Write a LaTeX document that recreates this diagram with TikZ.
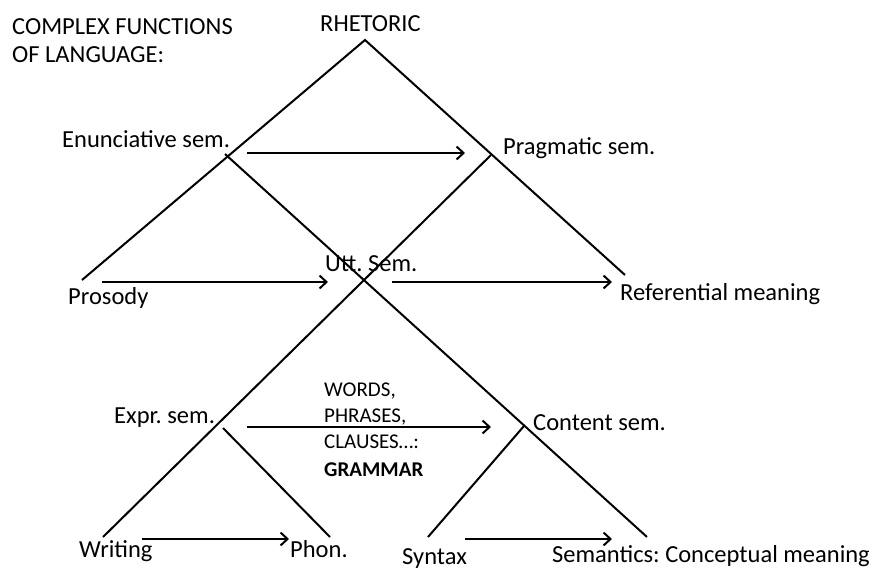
\documentclass[tikz,border=0pt]{standalone}
\usepackage{fontspec}
\setmainfont{Carlito}
\usetikzlibrary{arrows.meta, positioning}
\frenchspacing

\begin{document}
\begin{tikzpicture}[
    x=1pt, y=-1pt,
    every node/.style={inner sep=0pt, anchor=base west},
    lbl/.style={font=\fontsize{24.5}{29}\selectfont},
    small/.style={font=\fontsize{21}{26.5}\selectfont},
    branch/.style={line width=2pt},
    arr/.style={-{Straight Barb[length=7pt, width=13pt]}, line width=2pt}
  ]
  \useasboundingbox (0,0) rectangle (876,568);

  % tree points
  \coordinate (apex) at (365,40);
  \coordinate (enun) at (225,154);
  \coordinate (prag) at (491,155);
  \coordinate (pros) at (82,280);
  \coordinate (refe) at (625,275);
  \coordinate (writ) at (103,537);
  \coordinate (sema) at (647,537);
  \coordinate (expr) at (223,428);
  \coordinate (phon) at (330,537);
  \coordinate (cont) at (524,426);
  \coordinate (synt) at (428,537);

  % tree
  \draw[branch] (pros) -- (apex) -- (refe);
  \draw[branch] (enun) -- (sema);
  \draw[branch] (prag) -- (writ);
  \draw[branch] (expr) -- (phon);
  \draw[branch] (cont) -- (synt);

  % labels
  \node[lbl] (title1) at (12,34) {COMPLEX FUNCTIONS};
  \node[lbl] (title2) at (12,62) {OF LANGUAGE:};
  \node[lbl] (rhet) at (320,31) {RHETORIC};
  \node[lbl] (enunl) at (62,147) {Enunciative sem.};
  \node[lbl] (pragl) at (503,154) {Pragmatic sem.};
  \node[lbl] (uttl) at (325,271) {Utt. Sem.};
  \node[lbl] (prosl) at (68,304) {Prosody};
  \node[lbl] (refel) at (620,300) {Referential meaning};
  \node[lbl] (exprl) at (114,423) {Expr. sem.};
  \node[lbl] (contl) at (533,430) {Content sem.};
  \node[lbl] (writl) at (79,557) {Writing};
  \node[lbl] (phonl) at (290,557) {Phon.};
  \node[lbl] (syntl) at (402,564) {Syntax};
  \node[lbl] (semal) at (552,562) {Semantics: Conceptual meaning};

  % grammar note
  \node[small] (gr1) at (324,396) {WORDS,};
  \node[small] (gr2) at (324,422) {PHRASES,};
  \node[small] (gr3) at (324,448) {CLAUSES…:};
  \node[small, font=\fontsize{21}{26.5}\selectfont\bfseries] (gr4) at (324,476) {GRAMMAR};

  % arrow ends
  \coordinate (a1s) at (247,153); \coordinate (a1e) at (465,153);
  \coordinate (a2s) at (102,282); \coordinate (a2e) at (328,282);
  \coordinate (a3s) at (392,282); \coordinate (a3e) at (612,282);
  \coordinate (a4s) at (247,427); \coordinate (a4e) at (491,427);
  \coordinate (a5s) at (142,539); \coordinate (a5e) at (289,539);
  \coordinate (a6s) at (465,539); \coordinate (a6e) at (612,539);

  % arrows
  \draw[arr] (a1s) -- (a1e);
  \draw[arr] (a2s) -- (a2e);
  \draw[arr] (a3s) -- (a3e);
  \draw[arr] (a4s) -- (a4e);
  \draw[arr] (a5s) -- (a5e);
  \draw[arr] (a6s) -- (a6e);
\end{tikzpicture}
\end{document}
